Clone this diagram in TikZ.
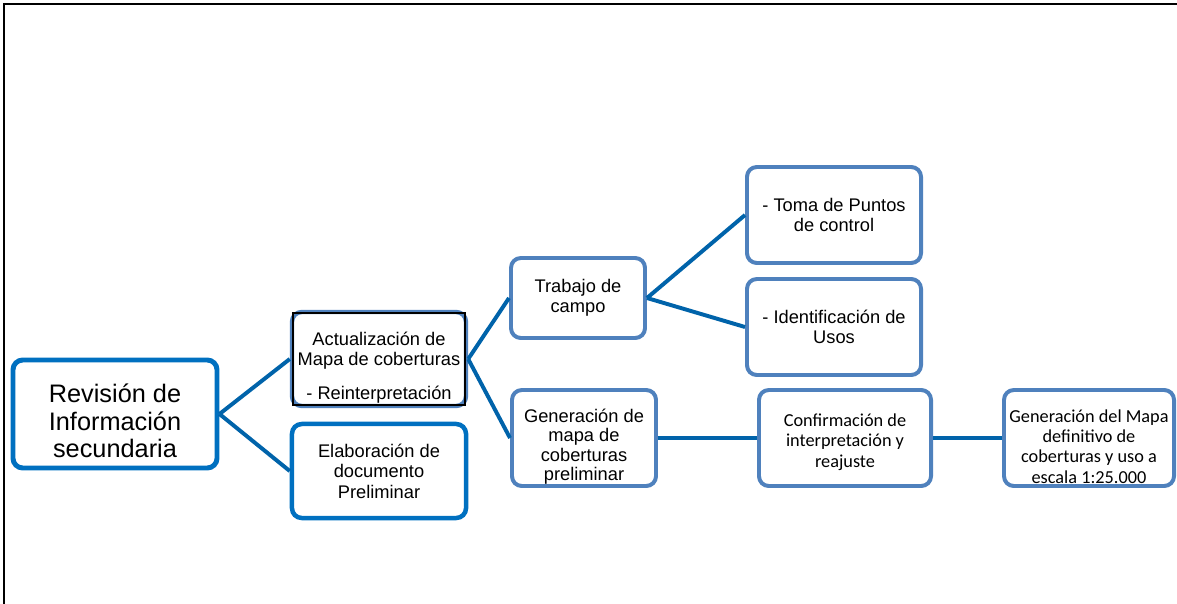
\documentclass[tikz,border=0pt]{standalone}
\usepackage{fontspec}
\setmainfont{Liberation Sans}
\newfontfamily\carlito{Carlito}
\usepackage{tikz}
\usetikzlibrary{positioning}

\definecolor{deepblue}{RGB}{0,112,192}
\definecolor{softblue}{RGB}{79,129,189}
\definecolor{linkblue}{RGB}{0,99,170}

\begin{document}
\begin{tikzpicture}[
    x=0.025cm, y=-0.025cm,
    mainbox/.style={
        rectangle, draw=deepblue, line width=3.5pt, rounded corners=7pt,
        fill=white, align=center, inner sep=2pt,
        font=\fontsize{18}{19.5}\selectfont},
    stepbox/.style={
        rectangle, draw=softblue, line width=2.8pt, rounded corners=7pt,
        fill=white, align=center, inner sep=2pt,
        font=\fontsize{13}{14.5}\selectfont},
    calbox/.style={
        stepbox, font=\carlito\fontsize{13}{14.5}\selectfont},
    link/.style={draw=linkblue, line width=2.8pt}
]

%% ── Page frame ──────────────────────────────────────────────────
\useasboundingbox (0,0) rectangle (1177,604);
\draw[line width=1.4pt] (4,604) -- (4,4) -- (1177,4);

%% ── Root ────────────────────────────────────────────────────────
\node[mainbox, minimum width=5.1cm, minimum height=2.7cm] (rev) at (115,414)
    {\rule{0pt}{23pt}Revisión de\\Información\\secundaria};

%% ── Second level ────────────────────────────────────────────────
\node[stepbox, line width=3.1pt, inner ysep=0pt,
      minimum width=4.35cm, minimum height=2.35cm] (act) at (379,359)
    {\rule{0pt}{22pt}Actualización de\\Mapa de coberturas\\[10pt]- Reinterpretación};
\node[stepbox, draw=deepblue, line width=3.2pt,
      minimum width=4.35cm, minimum height=2.35cm] (elab) at (379,471)
    {Elaboración de\\documento\\Preliminar};

%% ── Third level ─────────────────────────────────────────────────
\node[stepbox, minimum width=3.35cm, minimum height=2.0cm] (campo) at (578,298)
    {Trabajo de\\campo};
\node[stepbox, font=\fontsize{13}{13.8}\selectfont, inner ysep=0pt,
      minimum width=3.6cm, minimum height=2.4cm] (gen) at (584,438)
    {\rule{0pt}{22pt}Generación de\\mapa de\\coberturas\\preliminar};

%% ── Field work outputs ──────────────────────────────────────────
\node[stepbox, minimum width=4.35cm, minimum height=2.4cm] (toma) at (834,215)
    {- Toma de Puntos\\de control};
\node[stepbox, minimum width=4.35cm, minimum height=2.4cm] (usos) at (834,327)
    {- Identificación de\\Usos};

%% ── Final chain ─────────────────────────────────────────────────
\node[calbox, minimum width=4.3cm, minimum height=2.4cm] (conf) at (845,438)
    {\rule{0pt}{15pt}Confirmación de\\interpretación y\\reajuste};
\node[calbox, inner ysep=0pt, minimum width=4.25cm, minimum height=2.4cm]
    (final) at (1089,438)
    {\rule{0pt}{21pt}Generación del Mapa\\definitivo de\\coberturas y uso a\\escala 1:25.000};

%% ── Inner black frame of the updated map box ────────────────────
\draw[line width=1.1pt]
    ([shift={(3,3)}]act.north west) rectangle ([shift={(-3,-3)}]act.south east);

%% ── Links ───────────────────────────────────────────────────────
\draw[link] (rev.east) -- (act.west);
\draw[link] (rev.east) -- (elab.west);
\draw[link] (act.east) -- (campo.west);
\draw[link] (act.east) -- (gen.west);
\draw[link] (campo.east) -- (toma.west);
\draw[link] (campo.east) -- (usos.west);
\draw[link] (gen.east) -- (conf.west);
\draw[link] (conf.east) -- (final.west);

\end{tikzpicture}
\end{document}
